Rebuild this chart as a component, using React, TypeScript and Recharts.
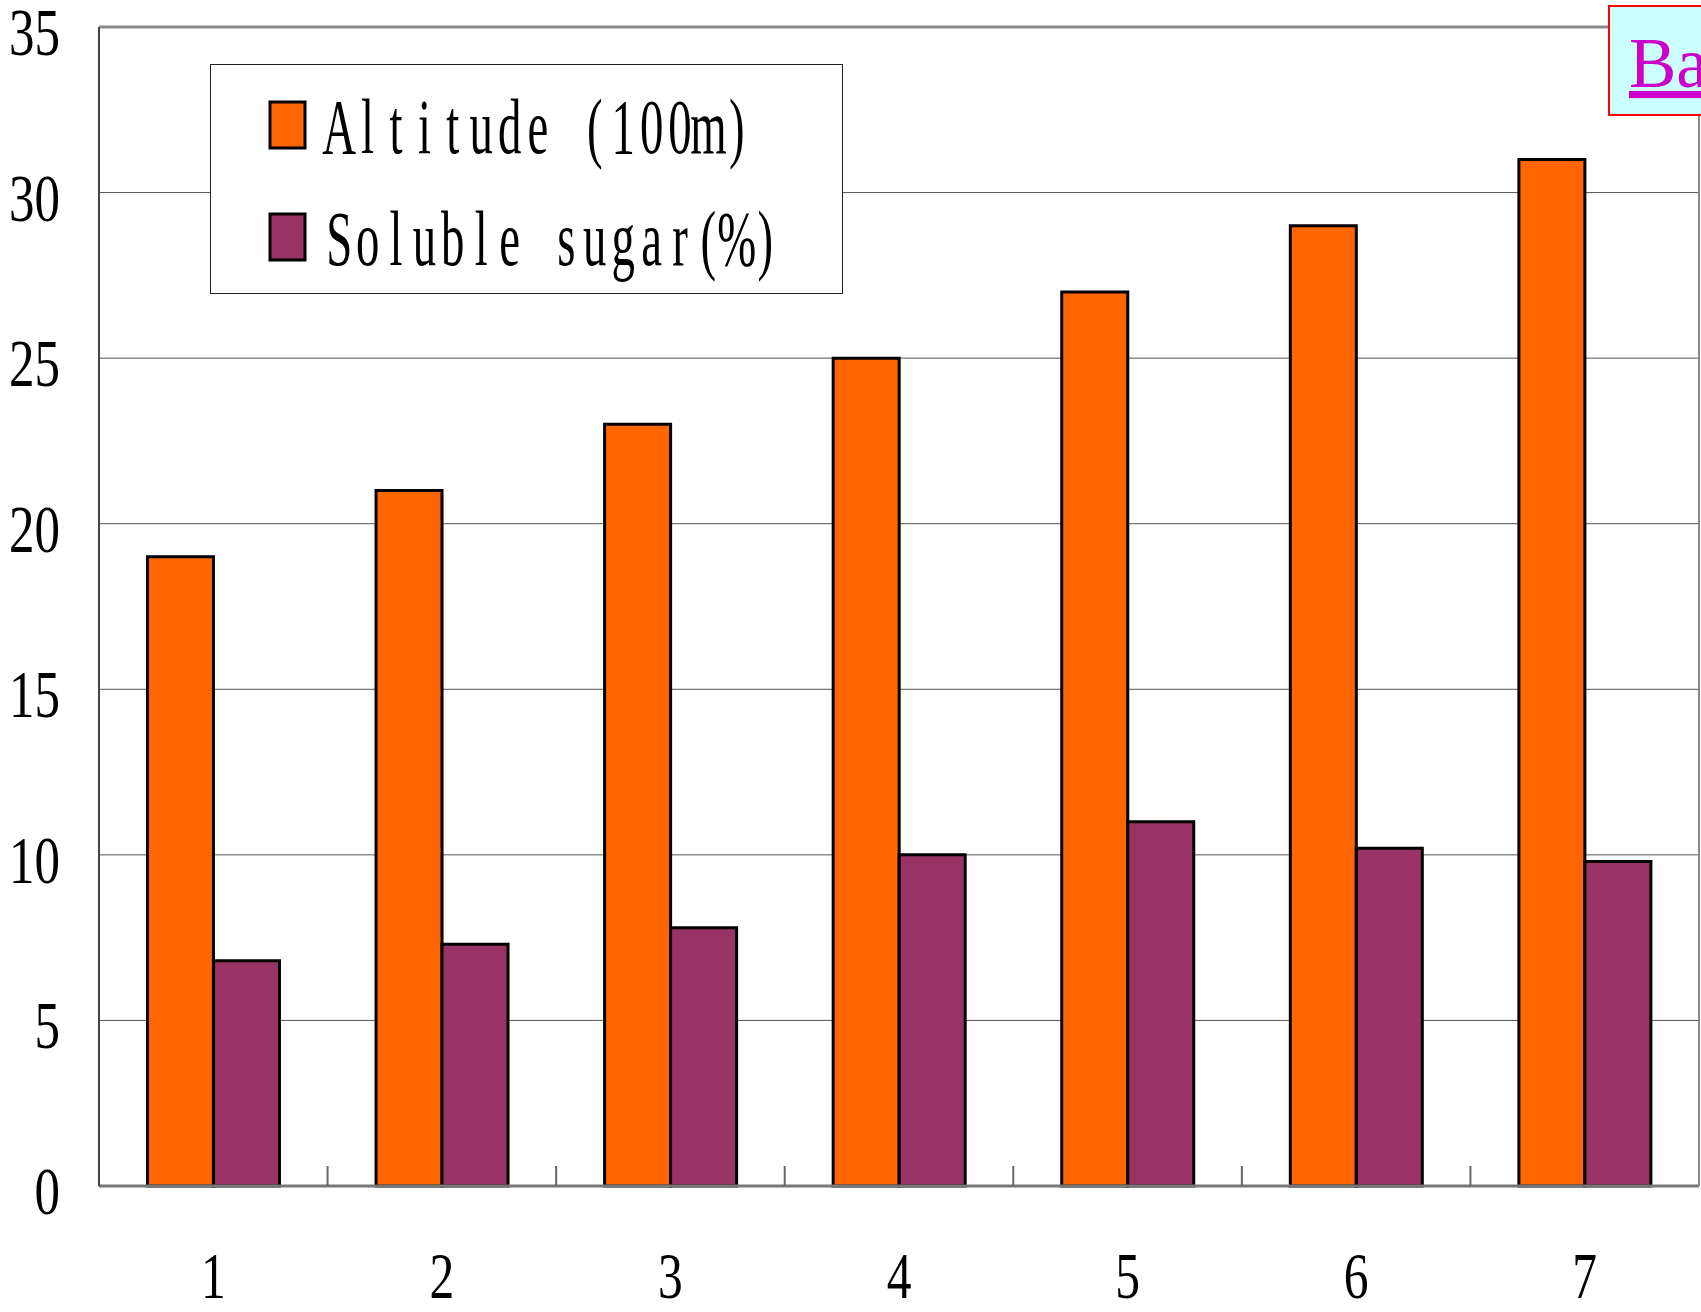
import React from "react";
import {
  Bar,
  BarChart,
  CartesianGrid,
  Legend,
  ReferenceLine,
  XAxis,
  YAxis,
} from "recharts";

const categories = ["1", "2", "3", "4", "5", "6", "7"];
const altitude = [19, 21, 23, 25, 27, 29, 31];
const solubleSugar = [6.8, 7.3, 7.8, 10, 11, 10.2, 9.8];
const yTicks = [0, 5, 10, 15, 20, 25, 30, 35];
const seriesNames = ["Altitude (100m)", "Soluble sugar(%)"];
const seriesColors = ["#ff6600", "#993366"];

const FONT = "'Liberation Serif', 'Times New Roman', serif";

function YTick({ x, y, payload }: any) {
  return (
    <g transform={`translate(${x},${y})`}>
      <text
        transform="scale(0.75,1)"
        textAnchor="end"
        dy={28}
        fontSize={68}
        fontFamily={FONT}
        fill="#000"
      >
        {payload.value}
      </text>
    </g>
  );
}

function XTick({ x, y, payload, index }: any) {
  const i = index ?? payload.index;
  const half = payload.offset ?? 0;
  return (
    <g>
      {i < categories.length - 1 && half > 0 ? (
        <line
          x1={x + half}
          x2={x + half}
          y1={y - 20}
          y2={y}
          stroke="#666"
          strokeWidth={2}
        />
      ) : null}
      <g transform={`translate(${x},${y})`}>
        <text
          transform="scale(0.75,1)"
          textAnchor="middle"
          dy={112}
          fontSize={66}
          fontFamily={FONT}
          fill="#000"
        >
          {payload.value}
        </text>
      </g>
    </g>
  );
}

// half-width monospaced look of the original font: one glyph per cell
function MonoText({ text, x, y, cell, sx, size }: any) {
  return (
    <g transform={`translate(${x},${y}) scale(${sx},1)`}>
      <text textAnchor="middle" fontSize={size} fontFamily={FONT} fill="#000">
        {text.split("").map((ch: string, i: number) => (
          <tspan key={i} x={((i + 0.5) * cell) / sx}>
            {ch}
          </tspan>
        ))}
      </text>
    </g>
  );
}

function LegendBox() {
  return (
    <div
      style={{
        width: 633,
        height: 230,
        border: "1px solid #222",
        background: "#fff",
        boxSizing: "border-box",
      }}
    >
      <svg width={631} height={228} style={{ display: "block" }}>
        {seriesNames.map((name, i) => (
          <g key={name}>
            <rect
              x={59}
              y={37 + i * 112}
              width={35}
              height={46}
              fill={seriesColors[i]}
              stroke="#000"
              strokeWidth={3}
            />
            <MonoText
              text={name}
              x={114}
              y={88 + i * 112}
              cell={28.4}
              sx={0.6}
              size={78}
            />
          </g>
        ))}
      </svg>
    </div>
  );
}

export default function App() {
  const data = categories.map((name, i) => ({
    name,
    altitude: altitude[i],
    sugar: solubleSugar[i],
  }));

  return (
    <div
      style={{
        position: "absolute",
        left: 0,
        top: 0,
        width: 1701,
        height: 1312,
        overflow: "hidden",
        background: "#fff",
      }}
    >
      <BarChart
        width={1701}
        height={1312}
        data={data}
        margin={{ top: 27, right: 0, left: 0, bottom: 0 }}
        barCategoryGap="21.2%"
        barGap={0}
      >
        <CartesianGrid vertical={false} stroke="#555" strokeWidth={1} />
        <XAxis
          dataKey="name"
          height={126}
          interval={0}
          tickLine={false}
          tickSize={0}
          tickMargin={0}
          axisLine={{ stroke: "#777", strokeWidth: 3 }}
          tick={<XTick />}
        />
        <YAxis
          width={99}
          domain={[0, 35]}
          ticks={yTicks}
          interval={0}
          tickLine={false}
          tickSize={0}
          tickMargin={39}
          axisLine={{ stroke: "#444", strokeWidth: 2 }}
          tick={<YTick />}
        />
        <YAxis
          yAxisId="right"
          orientation="right"
          width={2}
          domain={[0, 35]}
          tick={false}
          tickLine={false}
          axisLine={{ stroke: "#888", strokeWidth: 2 }}
        />
        <ReferenceLine y={35} stroke="#888" strokeWidth={3} />
        <Legend
          layout="horizontal"
          verticalAlign="middle"
          align="center"
          content={<LegendBox />}
          wrapperStyle={{
            position: "absolute",
            left: 210,
            top: 64,
            width: 633,
            height: 230,
          }}
        />
        <Bar
          dataKey="altitude"
          name={seriesNames[0]}
          fill={seriesColors[0]}
          stroke="#000"
          strokeWidth={3}
          isAnimationActive={false}
        />
        <Bar
          dataKey="sugar"
          name={seriesNames[1]}
          fill={seriesColors[1]}
          stroke="#000"
          strokeWidth={3}
          isAnimationActive={false}
        />
      </BarChart>
      <div
        style={{
          position: "absolute",
          left: 1608,
          top: 5,
          width: 200,
          height: 111,
          border: "2px solid #ff0000",
          background: "#ccffff",
          boxSizing: "border-box",
        }}
      >
        <svg width={200} height={107} style={{ display: "block" }}>
          <text
            x={19}
            y={80}
            fontSize={71}
            fontFamily={FONT}
            fill="#cc00cc"
            textDecoration="underline"
          >
            Ba
          </text>
        </svg>
      </div>
    </div>
  );
}
